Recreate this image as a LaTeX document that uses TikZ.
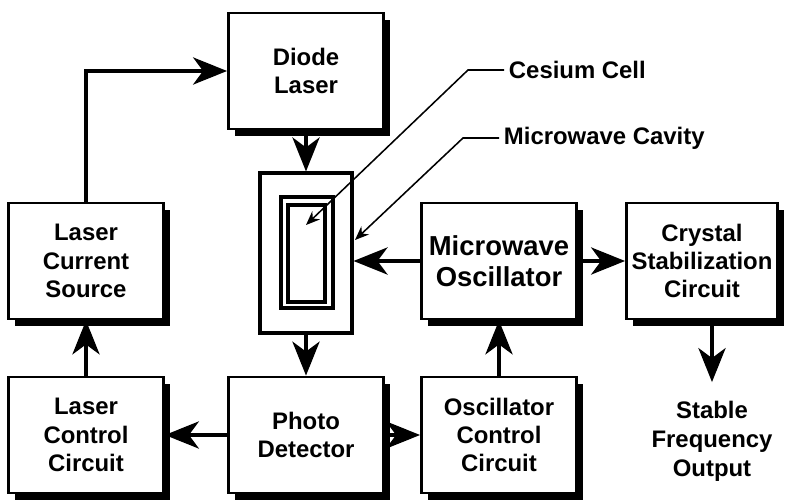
\documentclass[tikz,border=0pt]{standalone}
\usepackage{fontspec}
\setmainfont{Liberation Sans}
\usetikzlibrary{arrows.meta, shadows}
\tikzstyle{block} = [rectangle, minimum width=3.875cm, minimum height=2.9cm, text centered, align=center, draw=black, line width=2pt, fill=white, font=\bfseries\fontsize{17}{20}\selectfont, drop shadow={shadow xshift=0.17cm, shadow yshift=-0.17cm, fill=black, opacity=1}]
\tikzstyle{wall} = [rectangle, draw=black, line width=2.2pt]
\tikzstyle{note} = [align=center, font=\bfseries\fontsize{17}{20.5}\selectfont]
\tikzstyle{arrow} = [line width=2.3pt, -{Stealth[length=0.85cm, width=0.68cm, inset=0.25cm]}]
\tikzstyle{leader} = [line width=1.1pt, -{Stealth[length=0.35cm, width=0.28cm]}]

\begin{document}
\begin{tikzpicture}[x=0.025cm, y=-0.025cm]
\useasboundingbox (0,0) rectangle (785,501);

\node (diode) [block] at (306,71) {Diode\\Laser};
\node (lcs) [block] at (86,261) {Laser\\Current\\Source};
\node (lcc) [block] at (86,435) {Laser\\Control\\Circuit};
\node (pd) [block] at (306,435) {Photo\\Detector};
\node (mo) [block, font=\bfseries\fontsize{19.5}{22}\selectfont] at (499,261) {Microwave\\Oscillator};
\node (occ) [block] at (499,435) {Oscillator\\Control\\Circuit};
\node (crys) [block, minimum width=3.775cm] at (702,261) {Crystal\\Stabilization\\Circuit};
\node (out) [note] at (712,441) {Stable\\Frequency\\Output};

\node (cavity) [wall, minimum width=2.3cm, minimum height=4cm] at (306,253) {};
\node (cellwall) [wall, line width=3pt, minimum width=1.3cm, minimum height=2.775cm] at (307,252.5) {};
\node (cellin) [wall, line width=3pt, minimum width=0.925cm, minimum height=2.425cm] at (306.5,253.5) {};

\node (cs) [note, anchor=west] at (504,70) {Cesium Cell};
\node (mc) [note, anchor=west] at (499,138) {Microwave Cavity};
\coordinate (cstip) at (306,225);
\coordinate (mctip) at (355,240);

\draw [arrow] (lcs.north) |- (diode.west);
\draw [arrow] (diode.south) -- (cavity.north);
\draw [arrow] (cavity.south) -- (pd.north);
\draw [arrow] (mo.west) -- (mo.west -| cavity.east);
\draw [arrow] (mo.east) -- (crys.west);
\draw [arrow] (occ.north) -- (mo.south);
\draw [arrow] (pd.west) -- (lcc.east);
\draw [arrow] (pd.east) -- (occ.west);
\draw [arrow] (lcc.north) -- (lcs.south);
\draw [arrow, shorten >=0.35cm] (crys.south -| out.north) -- (out.north);

\draw [leader] (cs.west) -- ++(-36,0) -- (cstip);
\draw [leader] (mc.west) -- ++(-36,0) -- (mctip);
\end{tikzpicture}
\end{document}
